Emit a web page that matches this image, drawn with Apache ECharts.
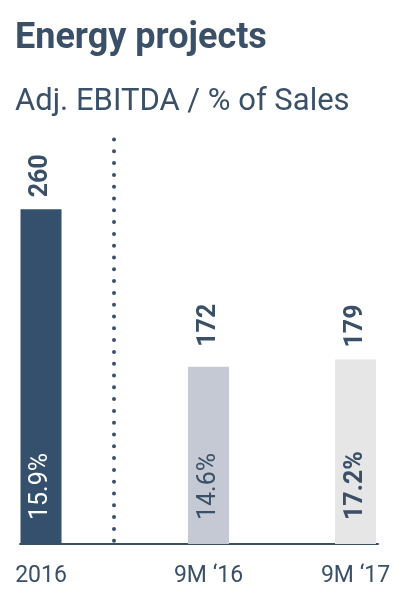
<!DOCTYPE html>
<html>
<head>
<meta charset="utf-8">
<script src="https://cdn.jsdelivr.net/npm/echarts@6/dist/echarts.min.js"></script>
<style>
    html, body { margin: 0; padding: 0; background: #ffffff; }
    #chart { width: 399px; height: 600px; }
</style>
</head>
<body>
<div id="chart"></div>
<script>
    // full year (own scale)
    const categoriesFY = ['2016']
    const valuesFY = [260]
    const marginsFY = ['15.9%']
    // nine months (own scale)
    const categories9M = ['9M ‘16', '9M ‘17']
    const values9M = [172, 179]
    const margins9M = ['14.6%', '17.2%']

    const textColor = '#3a5068'
    const font = 'Roboto'

    const chart = echarts.init(document.getElementById('chart'))

    function topLabel(distance) {
        return {
            show: true,
            position: 'top',
            rotate: 90,
            align: 'left',
            verticalAlign: 'middle',
            distance: distance,
            color: textColor,
            fontFamily: font,
            fontWeight: 'bold',
            fontSize: 25
        }
    }

    function insideLabel(text, color, bold) {
        return {
            show: true,
            position: 'insideBottom',
            rotate: 90,
            align: 'left',
            verticalAlign: 'middle',
            distance: 24,
            formatter: text,
            color: color,
            fontFamily: font,
            fontWeight: bold ? 'bold' : 'normal',
            fontSize: 25
        }
    }

    const axisLabel = {
        color: textColor,
        fontFamily: font,
        fontSize: 23,
        margin: 21
    }

    chart.setOption({
        title: {
            left: 10,
            top: 16,
            text: 'Energy projects',
            subtext: 'Adj. EBITDA / % of Sales',
            itemGap: 30,
            textStyle: {color: textColor, fontFamily: font, fontWeight: 'bold', fontSize: 36, lineHeight: 36},
            subtextStyle: {color: textColor, fontFamily: font, fontSize: 31, lineHeight: 31}
        },
        grid: [
            {left: 20, width: 42, top: 138, bottom: 56},
            {left: 208.5, right: 43.5, top: 138, bottom: 56},
            {left: 20, right: 21, top: 138, bottom: 56}
        ],
        xAxis: [
            {
                gridIndex: 0, type: 'category', data: categoriesFY,
                axisLine: {show: false}, axisTick: {show: false}, axisLabel: axisLabel
            },
            {
                gridIndex: 1, type: 'category', data: categories9M, boundaryGap: false,
                axisLine: {show: false}, axisTick: {show: false}, axisLabel: axisLabel
            },
            {
                gridIndex: 2, type: 'value', min: 0, max: 1,
                axisLine: {show: true, onZero: false, lineStyle: {color: textColor, width: 2}},
                axisTick: {show: false}, axisLabel: {show: false}, splitLine: {show: false}
            }
        ],
        yAxis: [
            {gridIndex: 0, type: 'value', min: 0, max: 315.4, show: false},
            {gridIndex: 1, type: 'value', min: 0, max: 394, show: false},
            {gridIndex: 2, type: 'value', min: 0, max: 1, show: false}
        ],
        series: [
            {
                type: 'bar', xAxisIndex: 0, yAxisIndex: 0, barWidth: 41, barGap: '-100%',
                data: valuesFY.map(v => ({value: v, itemStyle: {color: '#35506d'}})),
                label: topLabel(12)
            },
            {
                type: 'bar', xAxisIndex: 0, yAxisIndex: 0, barWidth: 41, barGap: '-100%',
                itemStyle: {color: 'rgba(0,0,0,0)'},
                data: valuesFY.map((v, i) => ({value: v, label: insideLabel(marginsFY[i], '#ffffff', false)}))
            },
            {
                type: 'bar', xAxisIndex: 1, yAxisIndex: 1, barWidth: 41, barGap: '-100%', clip: false,
                data: values9M.map((v, i) => ({
                    value: v,
                    itemStyle: {color: ['#c5c9d3', '#e6e6e6'][i]},
                    label: topLabel([20, 12][i])
                }))
            },
            {
                type: 'bar', xAxisIndex: 1, yAxisIndex: 1, barWidth: 41, barGap: '-100%', clip: false,
                itemStyle: {color: 'rgba(0,0,0,0)'},
                data: values9M.map((v, i) => ({value: v, label: insideLabel(margins9M[i], textColor, i === 1)}))
            }
        ],
        graphic: [
            {
                type: 'line',
                silent: true,
                shape: {x1: 114, y1: 139.5, x2: 114, y2: 542},
                style: {stroke: textColor, lineWidth: 4, lineCap: 'round', lineDash: [0, 11.8]}
            }
        ]
    })
</script>
</body>
</html>
